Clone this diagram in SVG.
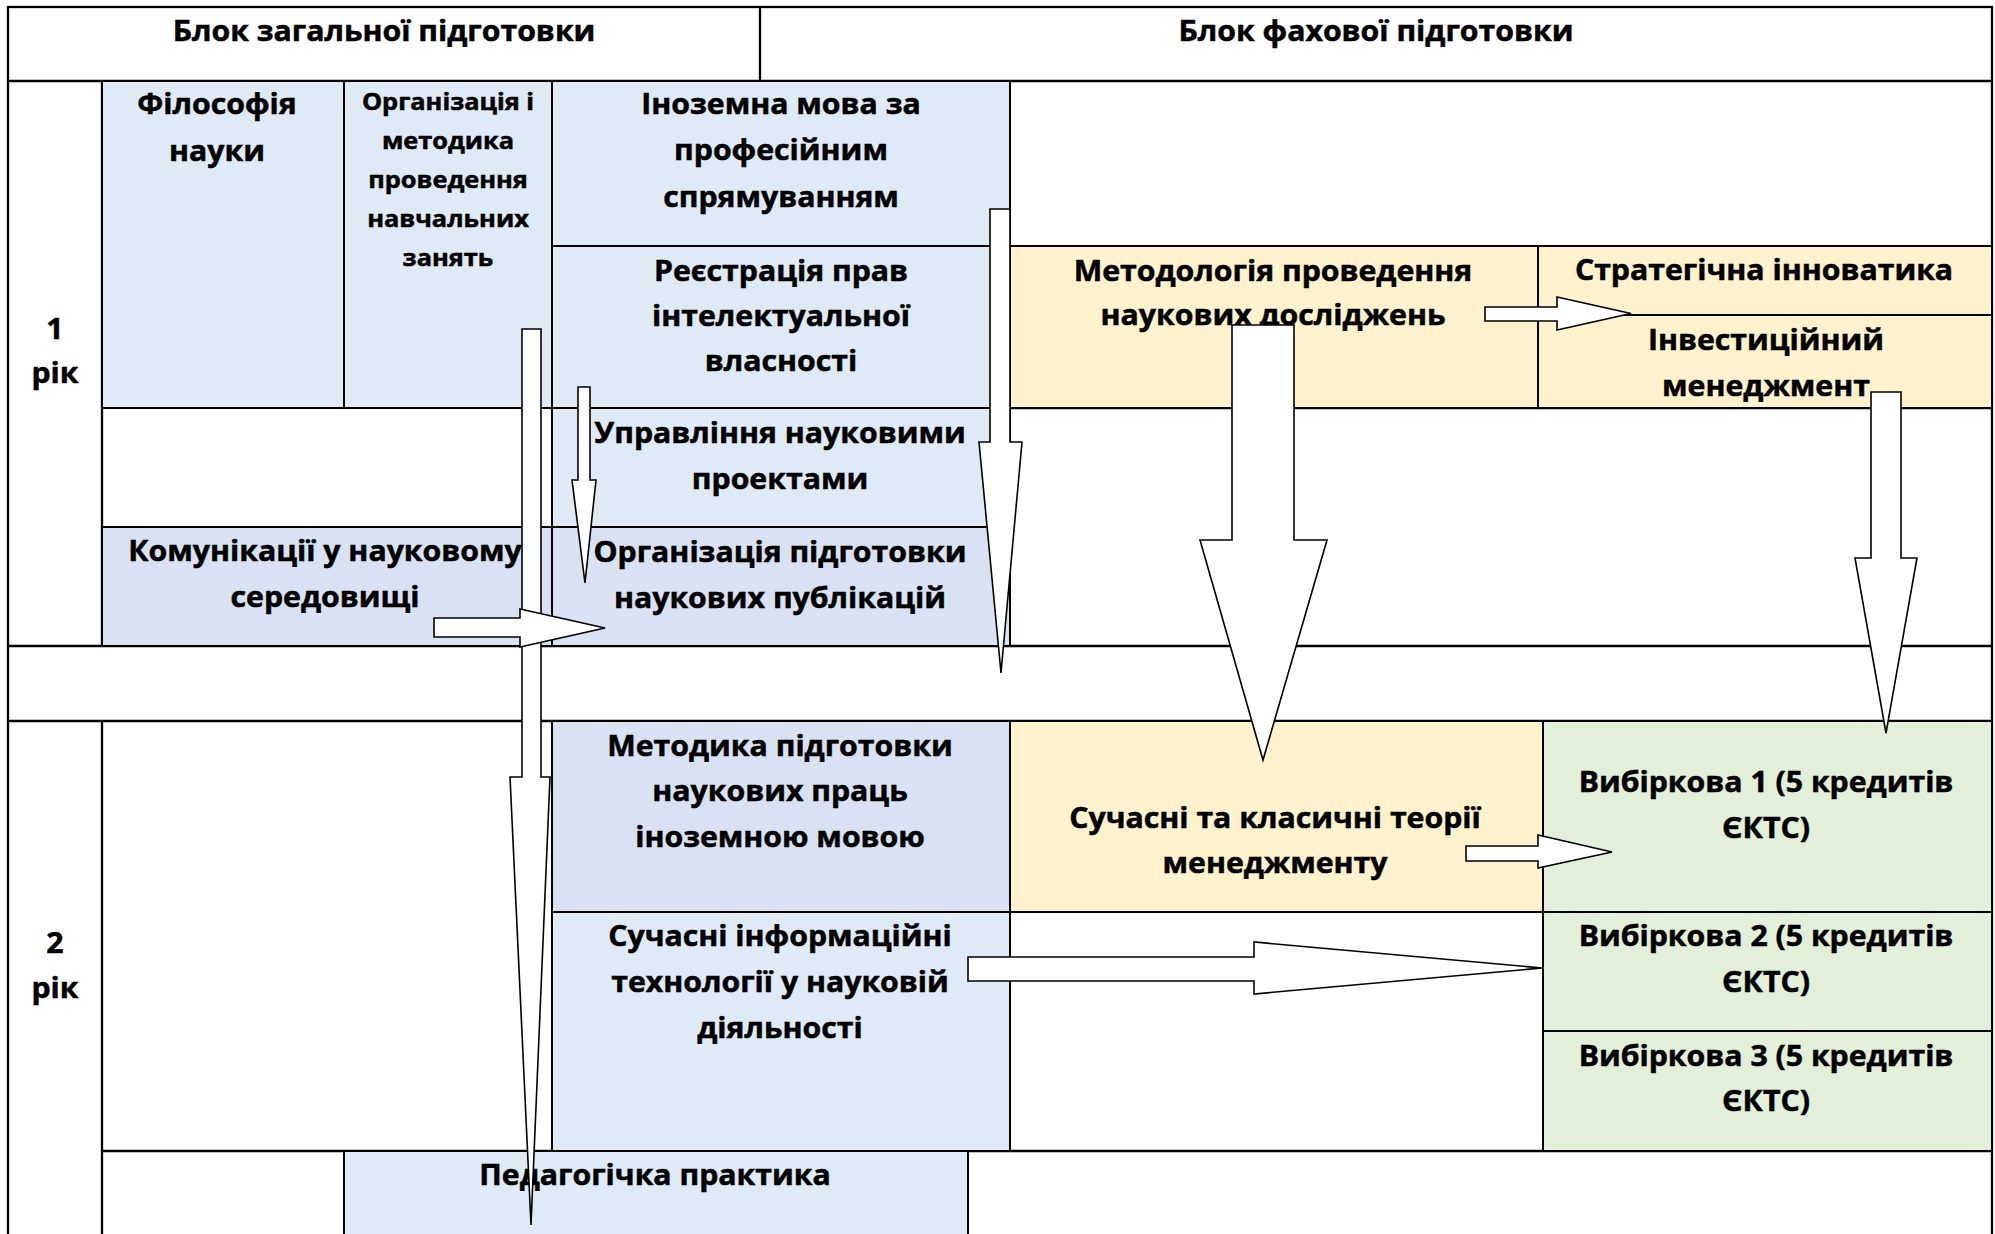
<svg xmlns="http://www.w3.org/2000/svg" width="1995" height="1234" viewBox="0 0 1995 1234">
<style>
  .c { stroke:#000; stroke-width:2; }
  .blue { fill:#DEEAF6; }
  .peri { fill:#D9E2F3; }
  .yel { fill:#FFF2CC; }
  .grn { fill:#E2EFD9; }
  .ln { stroke:#000; stroke-width:2.3; fill:none; }
  text { font-family:"Open Sans","Noto Sans","DejaVu Sans",sans-serif; font-weight:700; font-size:28px; text-anchor:middle; fill:#000; stroke:#000; stroke-width:0.5; }
  .sm { font-size:23.5px; }
  .ar { fill:#fff; stroke:#000; stroke-width:1.6; stroke-linejoin:miter; }
</style>
<rect x="0" y="0" width="1995" height="1234" fill="#fff"/>

<g id="grid">
  <rect x="8" y="7" width="1984" height="1240" class="ln" fill="#fff"/>
  <line x1="8" y1="81" x2="1992" y2="81" class="ln"/>
  <line x1="760" y1="7" x2="760" y2="81" class="ln" stroke-width="1.6"/>
  <line x1="102" y1="81" x2="102" y2="646" class="ln"/>
  <line x1="102" y1="721" x2="102" y2="1240" class="ln"/>
  <line x1="8" y1="646" x2="1992" y2="646" class="ln"/>
  <line x1="8" y1="721" x2="1992" y2="721" class="ln"/>
  <line x1="102" y1="1151" x2="1992" y2="1151" class="ln"/>
  <line x1="1010" y1="408" x2="1992" y2="408" class="ln"/>
</g>

<g id="header-general">
  <text transform="translate(384 41) scale(1.08 1)">Блок загальної підготовки</text>
</g>
<g id="header-special">
  <text transform="translate(1376 41) scale(1.08 1)">Блок фахової підготовки</text>
</g>
<g id="year1">
  <text transform="translate(55 339) scale(1.08 1)"><tspan x="0" y="0">1</tspan><tspan x="0" y="44">рік</tspan></text>
</g>
<g id="year2">
  <text transform="translate(55 953) scale(1.08 1)"><tspan x="0" y="0">2</tspan><tspan x="0" y="45">рік</tspan></text>
</g>

<g id="filosofiya">
  <rect x="102" y="81" width="242" height="327" class="c blue"/>
  <text transform="translate(217 114) scale(1.08 1)"><tspan x="0" y="0">Філософія</tspan><tspan x="0" y="47">науки</tspan></text>
</g>
<g id="orhanizatsiya-metodyka">
  <rect x="344" y="81" width="208" height="327" class="c blue"/>
  <text class="sm" transform="translate(448 110) scale(1.08 1)"><tspan x="0" y="0">Організація і</tspan><tspan x="0" y="39">методика</tspan><tspan x="0" y="78">проведення</tspan><tspan x="0" y="117">навчальних</tspan><tspan x="0" y="156">занять</tspan></text>
</g>
<g id="inozemna">
  <rect x="552" y="81" width="458" height="165" class="c blue"/>
  <text transform="translate(781 114) scale(1.08 1)"><tspan x="0" y="0">Іноземна мова за</tspan><tspan x="0" y="46.5">професійним</tspan><tspan x="0" y="93">спрямуванням</tspan></text>
</g>
<g id="reiestratsiya">
  <rect x="552" y="246" width="458" height="162" class="c blue"/>
  <text transform="translate(781 281) scale(1.08 1)"><tspan x="0" y="0">Реєстрація прав</tspan><tspan x="0" y="45">інтелектуальної</tspan><tspan x="0" y="90">власності</tspan></text>
</g>
<g id="upravlinnia">
  <rect x="552" y="408" width="458" height="119" class="c blue"/>
  <text transform="translate(780 443) scale(1.08 1)"><tspan x="0" y="0">Управління науковими</tspan><tspan x="0" y="46">проектами</tspan></text>
</g>
<g id="komunikatsii">
  <rect x="102" y="527" width="450" height="119" class="c peri"/>
  <text transform="translate(325 561) scale(1.08 1)"><tspan x="0" y="0">Комунікації у науковому</tspan><tspan x="0" y="46">середовищі</tspan></text>
</g>
<g id="publikatsii">
  <rect x="552" y="527" width="458" height="119" class="c peri"/>
  <text transform="translate(780 562) scale(1.08 1)"><tspan x="0" y="0">Організація підготовки</tspan><tspan x="0" y="46">наукових публікацій</tspan></text>
</g>
<g id="metodolohiya">
  <rect x="1010" y="246" width="528" height="162" class="c yel"/>
  <text transform="translate(1273 281) scale(1.08 1)"><tspan x="0" y="0">Методологія проведення</tspan><tspan x="0" y="44">наукових досліджень</tspan></text>
</g>
<g id="stratehichna">
  <rect x="1538" y="246" width="454" height="69" class="c yel"/>
  <text transform="translate(1764 280) scale(1.08 1)">Стратегічна інноватика</text>
</g>
<g id="investytsiinyi">
  <rect x="1538" y="315" width="454" height="93" class="c yel"/>
  <text transform="translate(1766 350) scale(1.08 1)"><tspan x="0" y="0">Інвестиційний</tspan><tspan x="0" y="46">менеджмент</tspan></text>
</g>
<g id="metodyka-inozemnoiu">
  <rect x="552" y="721" width="458" height="191" class="c peri"/>
  <text transform="translate(780 755.5) scale(1.08 1)"><tspan x="0" y="0">Методика підготовки</tspan><tspan x="0" y="46">наукових праць</tspan><tspan x="0" y="92">іноземною мовою</tspan></text>
</g>
<g id="teorii-menedzhmentu">
  <rect x="1010" y="721" width="533" height="191" class="c yel"/>
  <text transform="translate(1275 828) scale(1.08 1)"><tspan x="0" y="0">Сучасні та класичні теорії</tspan><tspan x="0" y="45">менеджменту</tspan></text>
</g>
<g id="vybirkova1">
  <rect x="1543" y="721" width="449" height="191" class="c grn"/>
  <text transform="translate(1766 792) scale(1.08 1)"><tspan x="0" y="0">Вибіркова 1 (5 кредитів</tspan><tspan x="0" y="46">ЄКТС)</tspan></text>
</g>
<g id="informatsiini-tekhnolohii">
  <rect x="552" y="912" width="458" height="239" class="c blue"/>
  <text transform="translate(780 946) scale(1.08 1)"><tspan x="0" y="0">Сучасні інформаційні</tspan><tspan x="0" y="46">технології у науковій</tspan><tspan x="0" y="92">діяльності</tspan></text>
</g>
<g id="vybirkova2">
  <rect x="1543" y="912" width="449" height="119" class="c grn"/>
  <text transform="translate(1766 946) scale(1.08 1)"><tspan x="0" y="0">Вибіркова 2 (5 кредитів</tspan><tspan x="0" y="46">ЄКТС)</tspan></text>
</g>
<g id="vybirkova3">
  <rect x="1543" y="1031" width="449" height="120" class="c grn"/>
  <text transform="translate(1766 1066) scale(1.08 1)"><tspan x="0" y="0">Вибіркова 3 (5 кредитів</tspan><tspan x="0" y="45">ЄКТС)</tspan></text>
</g>
<g id="pedahohichna-praktyka">
  <rect x="344" y="1151" width="624" height="100" class="c blue"/>
  <text transform="translate(655 1185) scale(1.08 1)">Педагогічка практика</text>
</g>

<g id="connectors">
  <polygon class="ar" points="522,329 541,329 541,777 550,777 531,1225 510,777 522,777"/>
  <polygon class="ar" points="578,387 590,387 590,480 596,480 585,583 572,480 578,480"/>
  <polygon class="ar" points="990,209 1010,209 1010,442 1022,442 1001,673 979,442 990,442"/>
  <polygon class="ar" points="1232,325 1294,325 1294,540 1327,540 1263,760 1200,540 1232,540"/>
  <polygon class="ar" points="1871,392 1901,392 1901,558 1917,558 1886,733 1855,558 1871,558"/>
  <polygon class="ar" points="1485,307 1557,307 1557,297 1631,313.5 1557,330 1557,321 1485,321"/>
  <polygon class="ar" points="434,618 520,618 520,609 605,628 520,647 520,637 434,637"/>
  <polygon class="ar" points="1466,846 1538,846 1538,835 1612,852 1538,868 1538,861 1466,861"/>
  <polygon class="ar" points="968,957 1254,957 1254,942 1542,968 1254,994 1254,981 968,981"/>
</g>
</svg>
